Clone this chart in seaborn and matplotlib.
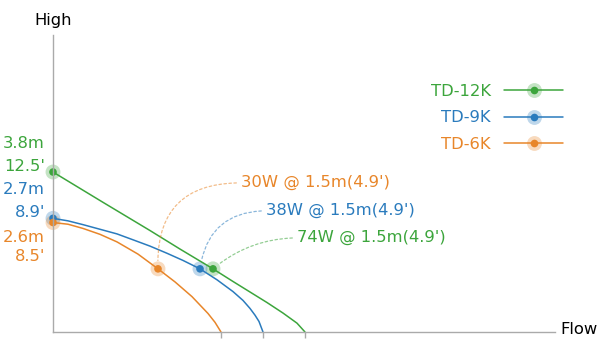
import pandas as pd
import seaborn as sns
import matplotlib.pyplot as plt
from matplotlib.lines import Line2D
from matplotlib.legend_handler import HandlerTuple

models = ['TD-12K', 'TD-9K', 'TD-6K']
colors = ['#3ca53c', '#2a7bbd', '#e8862a']

# pump curves (flow in arbitrary units, head in m)
flow_12k = [0, 50, 97, 127, 160, 180, 197, 214, 230, 244, 252]
head_12k = [3.8, 3.08, 2.41, 1.97, 1.5, 1.20, 0.95, 0.70, 0.45, 0.21, 0.0]
flow_9k = [0, 15, 30, 47, 64, 80, 97, 114, 130, 147, 164, 180, 190, 197, 202, 206, 210]
head_9k = [2.7, 2.64, 2.55, 2.44, 2.33, 2.19, 2.04, 1.87, 1.70, 1.5, 1.24, 0.96, 0.75,
           0.56, 0.40, 0.25, 0.0]
flow_6k = [0, 15, 30, 47, 64, 85, 105, 122, 139, 155, 162, 168]
head_6k = [2.6, 2.56, 2.46, 2.32, 2.14, 1.85, 1.5, 1.19, 0.84, 0.44, 0.23, 0.0]

max_head = [3.8, 2.7, 2.6]
max_head_m = ['3.8m', '2.7m', '2.6m']
max_head_ft = ["12.5'", "8.9'", "8.5'"]
max_flow = [252, 210, 168]

op_flow = [160, 147, 105]
op_head = [1.5, 1.5, 1.5]
op_label = ["74W @ 1.5m(4.9')", "38W @ 1.5m(4.9')", "30W @ 1.5m(4.9')"]

curves = pd.concat([
    pd.DataFrame({'model': m, 'flow': f, 'head': h})
    for m, f, h in zip(models, [flow_12k, flow_9k, flow_6k], [head_12k, head_9k, head_6k])
])
points = pd.DataFrame({
    'model': models * 2,
    'flow': [0, 0, 0] + op_flow,
    'head': max_head + op_head,
})
palette = dict(zip(models, colors))

sns.set_style('white')
plt.rcParams['font.family'] = ['DejaVu Sans']

fig = plt.figure(figsize=(6.01, 3.54), dpi=100)
ax = fig.add_axes([53 / 601, 22 / 354, 502 / 601, 297 / 354])

sns.lineplot(data=curves, x='flow', y='head', hue='model', palette=palette,
             sort=False, estimator=None, legend=False, lw=1.1, ax=ax)
sns.scatterplot(data=points, x='flow', y='head', hue='model', palette=palette,
                s=115, alpha=0.3, linewidth=0, legend=False, clip_on=False, ax=ax)
sns.scatterplot(data=points, x='flow', y='head', hue='model', palette=palette,
                s=30, linewidth=0, legend=False, clip_on=False, ax=ax)

ax.set_xlim(0, 502)
ax.set_ylim(0, 297 / 42.1)
ax.set_xlabel('')
ax.set_ylabel('')
ax.set_yticks([])
ax.set_xticks(max_flow)
ax.set_xticklabels([])
ax.tick_params(axis='x', length=4, width=1, color='#aaaaaa', direction='out', bottom=True)
for side in ['top', 'right']:
    ax.spines[side].set_visible(False)
for side in ['left', 'bottom']:
    ax.spines[side].set_color('#aaaaaa')
    ax.spines[side].set_linewidth(1)

fs = 11.8
# head labels on the y axis
offsets = [(20.5, 4.0), (20.5, 4.0), (-10.5, -24.5)]
for h, lm, lf, c, (om, of) in zip(max_head, max_head_m, max_head_ft, colors, offsets):
    ax.annotate(lm, (0, h), xytext=(-5.8, om), textcoords='offset points',
                ha='right', va='center', color=c, fontsize=fs)
    ax.annotate(lf, (0, h), xytext=(-5.8, of), textcoords='offset points',
                ha='right', va='center', color=c, fontsize=fs)

# operating point callouts
text_off = [(60.5, 22.3), (47.5, 41.8), (59.8, 61.9)]
rads = [0.18, 0.43, 0.52]
for f, h, lab, c, off, r in zip(op_flow, op_head, op_label, colors, text_off, rads):
    ax.annotate(lab, (f, h), xytext=off, textcoords='offset points',
                ha='left', va='center', color=c, fontsize=fs,
                arrowprops=dict(arrowstyle='-', color=c, lw=0.9, alpha=0.55,
                                linestyle=(0, (2, 2)), relpos=(0, 0.5),
                                shrinkA=1, shrinkB=6,
                                connectionstyle=f'arc3,rad={r}'))

fig.text(53 / 601, 1 - 20 / 354, 'High', ha='center', va='center', fontsize=fs, color='black')
fig.text(560 / 601, 1 - 330 / 354, 'Flow', ha='left', va='center', fontsize=fs, color='black')

handles = []
for c in colors:
    halo = Line2D([], [], ls='none', marker='o', ms=10.7, color=c, alpha=0.3, mew=0)
    line = Line2D([], [], color=c, lw=1.1, marker='o', ms=5.5, mew=0)
    handles.append((halo, line))
leg = ax.legend(handles, models, handler_map={tuple: HandlerTuple(ndivide=1, pad=0)},
                loc='upper right', bbox_to_anchor=(563 / 601, 1 - 84 / 354),
                bbox_transform=fig.transFigure, frameon=False, markerfirst=False,
                fontsize=fs, handlelength=3.6, handletextpad=0.8,
                labelspacing=0.7, borderpad=0, borderaxespad=0)
for t, c in zip(leg.get_texts(), colors):
    t.set_color(c)

fig.savefig('out.png', dpi=100)
